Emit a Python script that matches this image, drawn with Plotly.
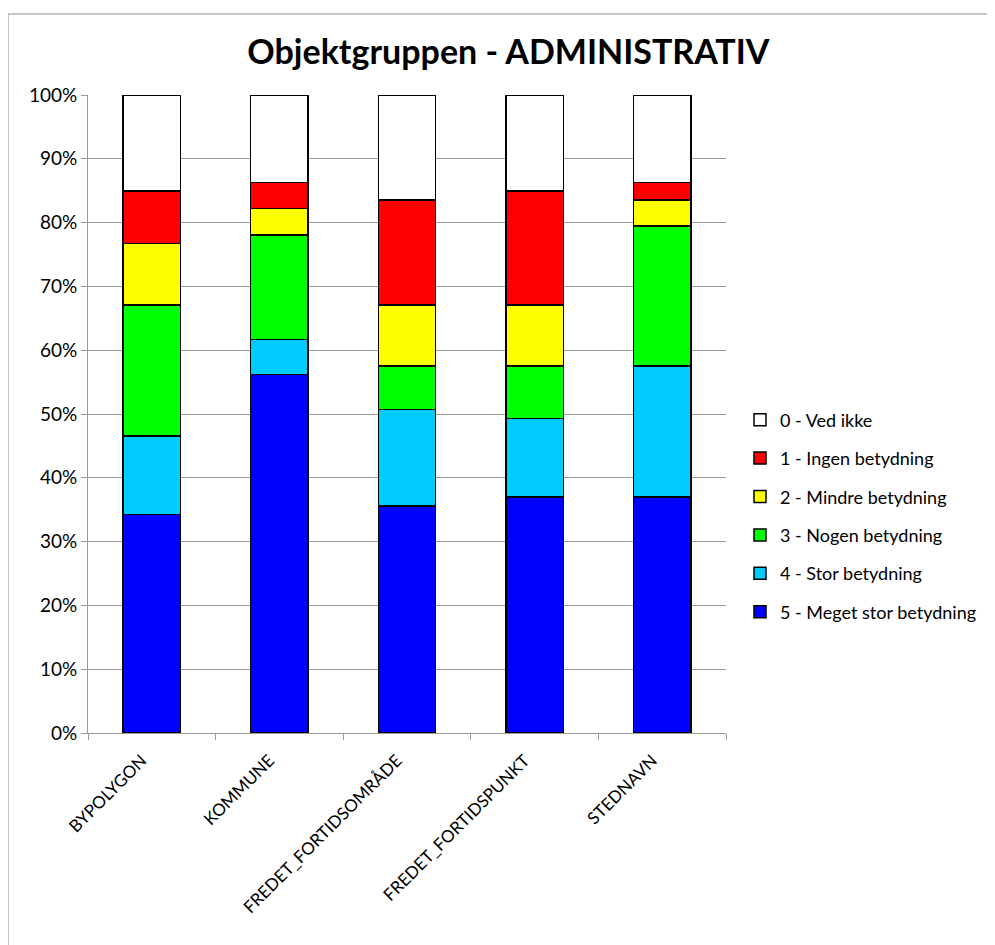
import plotly.graph_objects as go

# ── Data: answer counts per object type (73 respondents each) ────────────────
categories = ["BYPOLYGON", "KOMMUNE", "FREDET_FORTIDSOMRÅDE",
              "FREDET_FORTIDSPUNKT", "STEDNAVN"]

meget_stor = [25, 41, 26, 27, 27]   # 5 - Meget stor betydning
stor       = [9, 4, 11, 9, 15]      # 4 - Stor betydning
nogen      = [15, 12, 5, 6, 16]     # 3 - Nogen betydning
mindre     = [7, 3, 7, 7, 3]        # 2 - Mindre betydning
ingen      = [6, 3, 12, 13, 2]      # 1 - Ingen betydning
ved_ikke   = [11, 10, 12, 11, 10]   # 0 - Ved ikke

y_ticks = [0, 10, 20, 30, 40, 50, 60, 70, 80, 90, 100]
y_labels = [f"{v}%" for v in y_ticks]

series = [
    ("5 - Meget stor betydning", meget_stor, "#0000FF"),
    ("4 - Stor betydning", stor, "#00CCFF"),
    ("3 - Nogen betydning", nogen, "#00FF00"),
    ("2 - Mindre betydning", mindre, "#FFFF00"),
    ("1 - Ingen betydning", ingen, "#FF0000"),
    ("0 - Ved ikke", ved_ikke, "#FFFFFF"),
]

FONT = "Lato, 'Open Sans', sans-serif"
W, H = 987, 937
L, T, PW, PH = 80, 87, 638, 638   # plot area in figure pixels

fig = go.Figure()
for i, (name, vals, color) in enumerate(series):
    fig.add_trace(go.Bar(
        x=categories, y=vals, name=name, legendgroup=name,
        legendrank=len(series) - i,   # "0 - Ved ikke" on top of the legend
        marker=dict(color=color, line=dict(color="#000000", width=1.5)),
    ))

fig.update_layout(
    width=W, height=H,
    barmode="stack", barnorm="percent", bargap=0.55,
    paper_bgcolor="white", plot_bgcolor="white",
    font=dict(family=FONT, color="#000000", size=15),
    title=dict(text="<b>Objektgruppen - ADMINISTRATIV</b>", x=0.507, xanchor="center",
               y=1 - 44 / H, yanchor="middle", font=dict(size=34, family=FONT)),
    margin=dict(l=L, r=W - L - PW, t=T, b=H - T - PH),
    legend=dict(traceorder="grouped", xref="container", yref="container",
                x=732 / W, xanchor="left",
                y=1 - 508 / H, yanchor="middle",
                font=dict(size=18, family=FONT), itemwidth=30, tracegroupgap=12,
                bgcolor="rgba(0,0,0,0)"),
    showlegend=True,
)
fig.update_yaxes(range=[0, 100], tickvals=y_ticks, ticktext=y_labels,
                 showgrid=True, gridcolor="#9a9a9a", gridwidth=1,
                 showline=True, linecolor="#9a9a9a", linewidth=1,
                 ticks="outside", ticklen=6, tickcolor="#9a9a9a",
                 tickfont=dict(size=19), zeroline=False)
fig.update_xaxes(showline=True, linecolor="#9a9a9a", linewidth=1,
                 ticks="outside", tickson="boundaries", ticklen=6, tickcolor="#9a9a9a",
                 tickangle=-45, tickfont=dict(size=17),
                 ticklabelshift=-10, ticklabelstandoff=10)

# outer chart frame
fig.add_shape(type="rect", xref="paper", yref="paper",
              x0=(0 - L) / PW, x1=(1010 - L) / PW,
              y0=(T + PH - 1010) / PH, y1=(T + PH - 6) / PH,
              line=dict(color="#8c8c8c", width=1))

fig.write_html("out.html")
